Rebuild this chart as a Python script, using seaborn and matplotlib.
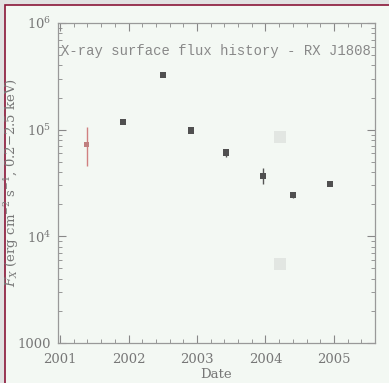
import numpy as np
import pandas as pd
import matplotlib
matplotlib.use("Agg")
import matplotlib.pyplot as plt
import seaborn as sns
from matplotlib.ticker import FixedLocator, MultipleLocator, LogLocator, NullFormatter, FixedFormatter
from matplotlib.patches import Rectangle

# ---- data ----
dates = [2001.92, 2002.50, 2002.91, 2003.42, 2003.96, 2004.40, 2004.94]
flux = [1.19e5, 3.27e5, 9.8e4, 6.1e4, 3.7e4, 2.45e4, 3.1e4]
err_lo = [0.06e5, 0.15e5, 0.08e4, 0.5e4, 0.6e4, 0.15e4, 0.15e4]
err_hi = [0.06e5, 0.15e5, 0.08e4, 0.5e4, 0.7e4, 0.15e4, 0.15e4]

early_date = [2001.39]
early_flux = [7.2e4]
early_lo = [2.6e4]
early_hi = [3.3e4]

faint_dates = [2004.21, 2004.21]
faint_flux = [8.5e4, 5.5e3]

year_ticks = [2001, 2002, 2003, 2004, 2005]
y_ticks = [1e3, 1e4, 1e5, 1e6]
y_labels = ["1000", r"$10^4$", r"$10^5$", r"$10^6$"]
title = "X-ray surface flux history - RX J1808"

df = pd.DataFrame({"date": dates, "flux": flux})
df_early = pd.DataFrame({"date": early_date, "flux": early_flux})
df_faint = pd.DataFrame({"date": faint_dates, "flux": faint_flux})

sns.set_style("ticks")
plt.rcParams["font.family"] = ["DejaVu Serif"]
plt.rcParams["mathtext.fontset"] = "dejavuserif"

fig = plt.figure(figsize=(3.89, 3.83), dpi=100)
fig.patch.set_facecolor("#e2e2e2")
bg = Rectangle((5/389, -0.05), 1.2, 1 - 5/383 + 0.05,
               transform=fig.transFigure, facecolor="#f3f8f3",
               edgecolor="#8a1538", linewidth=1.2, zorder=-10)
fig.add_artist(bg)

ax = fig.add_axes([58/389, 1 - 343/383, (375 - 58)/389, (343 - 23)/383])
ax.set_zorder(5)
ax.set_facecolor("#f3f8f3")

sns.scatterplot(data=df_faint, x="date", y="flux", ax=ax, marker="s", s=80,
                color="#a0a0a0", alpha=0.2, edgecolor="none", zorder=2)
ax.errorbar(df["date"], df["flux"], yerr=[err_lo, err_hi], fmt="none",
            ecolor="#555555", elinewidth=1.0, zorder=3)
sns.scatterplot(data=df, x="date", y="flux", ax=ax, marker="s", s=20,
                color="#505050", edgecolor="none", zorder=4)
ax.errorbar(df_early["date"], df_early["flux"], yerr=[early_lo, early_hi],
            fmt="none", ecolor="#d08080", elinewidth=1.0, zorder=3)
sns.scatterplot(data=df_early, x="date", y="flux", ax=ax, marker="s", s=12,
                color="#c08080", edgecolor="none", zorder=4)

ax.set_yscale("log")
ax.set_ylim(1e3, 1e6)
ax.set_xlim(2000.97, 2005.6)

ax.xaxis.set_major_locator(FixedLocator(year_ticks))
ax.xaxis.set_major_formatter(FixedFormatter([str(y) for y in year_ticks]))
ax.xaxis.set_minor_locator(MultipleLocator(0.2))
ax.yaxis.set_major_locator(FixedLocator(y_ticks))
ax.yaxis.set_major_formatter(FixedFormatter(y_labels))
ax.yaxis.set_minor_locator(LogLocator(base=10, subs=np.arange(2, 10)))
ax.yaxis.set_minor_formatter(NullFormatter())

ax.tick_params(which="both", direction="in", top=True, right=True,
               colors="#888888", labelcolor="#777777", labelsize=9.5)
ax.tick_params(which="major", length=6, width=0.8)
ax.tick_params(which="minor", length=3, width=0.6)
ax.tick_params(axis="x", which="major", pad=7)
ax.tick_params(axis="y", which="major", pad=5)
for sp in ax.spines.values():
    sp.set_color("#999999")
    sp.set_linewidth(0.9)

ax.set_xlabel("Date", color="#777777", fontsize=9.5)
ax.xaxis.set_label_coords(0.5, -0.078)
ax.set_ylabel(r"$F_X$ (erg cm$^{-2}$ s$^{-1}$, 0.2$-$2.5 keV)",
              color="#777777", fontsize=9.5)
ax.yaxis.set_label_coords(-0.118, 0.5)
ax.text(0.008, 0.935, title, transform=ax.transAxes, ha="left", va="top",
        color="#888888", fontsize=10, family=["Liberation Mono", "DejaVu Sans Mono"])

fig.savefig("out.png", dpi=100, facecolor=fig.get_facecolor())
